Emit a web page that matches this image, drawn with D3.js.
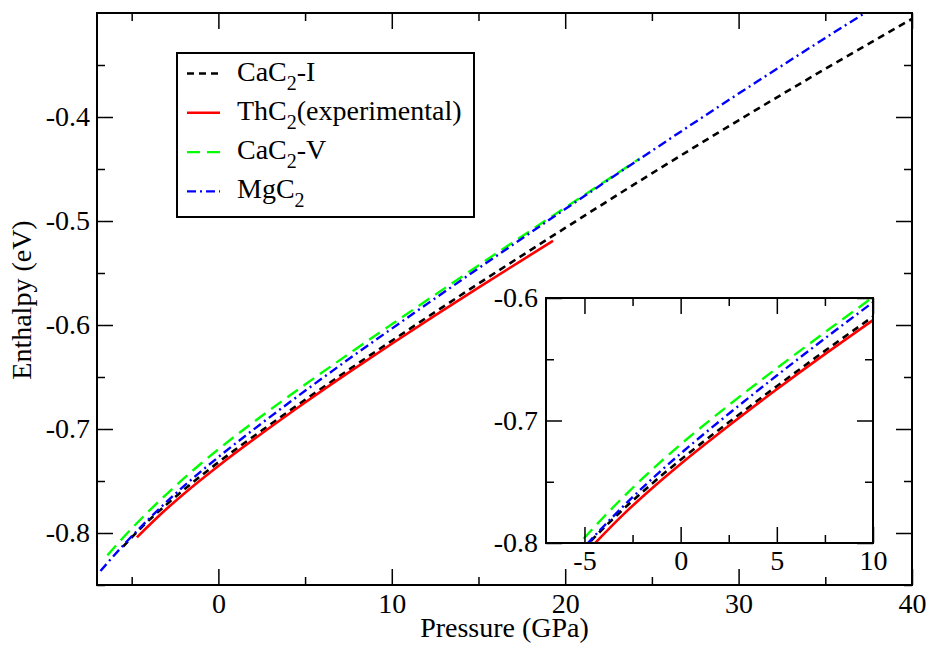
<!DOCTYPE html>
<html>
<head>
<meta charset="utf-8">
<script src="https://cdn.jsdelivr.net/npm/d3@7"></script>
<style>
  body { margin: 0; background: #fff; }
  svg text { font-family: "Liberation Serif", "Times New Roman", serif; }
</style>
</head>
<body>
<svg id="chart" width="930" height="645"></svg>
<script>
// values (pressure in GPa, enthalpy in eV)
const pressureCaC2I = [-5.5, -4.5, -3, -1.5, 0, 2.5, 5, 7.5, 10, 15, 20, 25, 30, 35, 40];
const enthalpyCaC2I = [-0.8132, -0.7957, -0.7727, -0.7517, -0.732, -0.7015, -0.672, -0.6432, -0.6152, -0.5602, -0.5067, -0.4542, -0.4032, -0.3537, -0.3057];

const pressureThC2 = [-4.7, -3, -1.5, 0, 2.5, 5, 7.5, 10, 12.5, 15, 17.5, 19.3];
const enthalpyThC2 = [-0.8042, -0.777, -0.7555, -0.7355, -0.7043, -0.6745, -0.6458, -0.618, -0.5908, -0.564, -0.5378, -0.519];

const pressureCaC2V = [-6.4, -5.5, -4, -2.5, -1, 0, 2.5, 5, 7.5, 10, 15, 20, 24.3];
const enthalpyCaC2V = [-0.8215, -0.8046, -0.7788, -0.7551, -0.7332, -0.7195, -0.6875, -0.6573, -0.628, -0.5993, -0.5427, -0.4871, -0.4399];

const pressureMgC2 = [-6.8, -5.5, -4, -2.5, -1, 0, 2.5, 5, 7.5, 10, 15, 20, 25, 30, 35, 37.4];
const enthalpyMgC2 = [-0.8365, -0.8121, -0.7863, -0.7626, -0.7407, -0.727, -0.6945, -0.6633, -0.633, -0.6035, -0.5455, -0.4885, -0.4325, -0.3775, -0.324, -0.2988];

const seriesNames = ["CaC_2-I", "ThC_2(experimental)", "CaC_2-V", "MgC_2"];

const xTicksMain = [0, 10, 20, 30, 40];
const xMinorMain = [-5, 5, 15, 25, 35];
const yTicksMain = [-0.8, -0.7, -0.6, -0.5, -0.4];
const yMinorMain = [-0.85, -0.75, -0.65, -0.55, -0.45, -0.35];

const xTicksInset = [-5, 0, 5, 10];
const xMinorInset = [-2.5, 2.5, 7.5];
const yTicksInset = [-0.8, -0.7, -0.6];
const yMinorInset = [-0.75, -0.65];

const series = [
  { p: pressureCaC2I, h: enthalpyCaC2I, color: "#000000", dash: "7,5", width: 2.6 },
  { p: pressureThC2, h: enthalpyThC2, color: "#ff0000", dash: null, width: 2.6 },
  { p: pressureCaC2V, h: enthalpyCaC2V, color: "#00ff00", dash: "13,7", width: 2.4 },
  { p: pressureMgC2, h: enthalpyMgC2, color: "#0000ff", dash: "9,4,2,4", width: 2.4 }
].map((s, i) => ({ ...s, name: seriesNames[i], pts: s.p.map((p, j) => [p, s.h[j]]) }));

const svg = d3.select("#chart");
const fontSize = 28;

function drawPanel(box, xDomain, yDomain, ticks, id) {
  const x = d3.scaleLinear().domain(xDomain).range([box.left, box.right]);
  const y = d3.scaleLinear().domain(yDomain).range([box.bottom, box.top]);

  const g = svg.append("g");

  g.append("rect")
    .attr("x", box.left).attr("y", box.top)
    .attr("width", box.right - box.left).attr("height", box.bottom - box.top)
    .attr("fill", "#fff");

  g.append("clipPath").attr("id", id)
    .append("rect")
    .attr("x", box.left).attr("y", box.top)
    .attr("width", box.right - box.left).attr("height", box.bottom - box.top);

  const line = d3.line()
    .x(d => x(d[0]))
    .y(d => y(d[1]))
    .curve(d3.curveMonotoneX);

  g.append("g").attr("clip-path", `url(#${id})`)
    .selectAll("path")
    .data(series)
    .join("path")
    .attr("d", d => line(d.pts))
    .attr("fill", "none")
    .attr("stroke", d => d.color)
    .attr("stroke-width", d => d.width)
    .attr("stroke-dasharray", d => d.dash);

  // ticks point inward on all four sides
  const sides = [
    [d3.axisBottom(x), `translate(0,${box.bottom})`, ticks.x, ticks.xMinor, true, ticks.padX],
    [d3.axisTop(x), `translate(0,${box.top})`, ticks.x, ticks.xMinor, false, 0],
    [d3.axisLeft(y), `translate(${box.left},0)`, ticks.y, ticks.yMinor, true, ticks.padY],
    [d3.axisRight(y), `translate(${box.right},0)`, ticks.y, ticks.yMinor, false, 0]
  ];

  sides.forEach(([axis, tr, major, minor, labels, pad]) => {
    const a = g.append("g")
      .attr("transform", tr)
      .call(axis.tickValues(major).tickSizeInner(-16).tickSizeOuter(0).tickPadding(pad)
        .tickFormat(labels ? ticks.fmt : () => ""));
    a.select(".domain").remove();
    a.selectAll("line").attr("stroke-width", 1.5);
    a.selectAll("text")
      .attr("font-size", fontSize)
      .attr("font-family", "Liberation Serif, serif")
      .attr("fill", "#000");

    const m = g.append("g")
      .attr("transform", tr)
      .call(axis.tickValues(minor).tickSizeInner(-8).tickSizeOuter(0).tickFormat(() => ""));
    m.select(".domain").remove();
    m.selectAll("line").attr("stroke-width", 1.5);
  });

  g.append("rect")
    .attr("x", box.left).attr("y", box.top)
    .attr("width", box.right - box.left).attr("height", box.bottom - box.top)
    .attr("fill", "none")
    .attr("stroke", "#000")
    .attr("stroke-width", 2);

  return g;
}

const fmt = d => (Number.isInteger(d) ? String(d) : d.toFixed(1));

// main plot
drawPanel({ left: 97, right: 912, top: 13, bottom: 585 }, [-7, 40], [-0.85, -0.3], {
  x: xTicksMain, xMinor: xMinorMain, y: yTicksMain, yMinor: yMinorMain,
  padX: 8, padY: 7, fmt: fmt
}, "clip-main");

// axis titles
svg.append("text")
  .attr("x", 504.5).attr("y", 637)
  .attr("text-anchor", "middle")
  .attr("font-size", fontSize)
  .text("Pressure (GPa)");

svg.append("text")
  .attr("transform", "translate(31,300) rotate(-90)")
  .attr("text-anchor", "middle")
  .attr("font-size", fontSize)
  .text("Enthalpy (eV)");

// legend
const legend = svg.append("g");
legend.append("rect")
  .attr("x", 177).attr("y", 53)
  .attr("width", 297).attr("height", 164)
  .attr("fill", "#fff")
  .attr("stroke", "#000")
  .attr("stroke-width", 2);

series.forEach((s, i) => {
  const base = 80.5 + i * 39.3;
  legend.append("line")
    .attr("x1", 187).attr("x2", 220)
    .attr("y1", base - 7).attr("y2", base - 7)
    .attr("stroke", s.color)
    .attr("stroke-width", s.width)
    .attr("stroke-dasharray", s.dash);

  const [before, after] = s.name.split("_2");
  const t = legend.append("text")
    .attr("x", 237).attr("y", base)
    .attr("font-size", fontSize);
  t.append("tspan").text(before);
  t.append("tspan").attr("font-size", 20).attr("dy", 9).text("2");
  t.append("tspan").attr("dy", -9).text(after);
});

// inset
drawPanel({ left: 546, right: 873, top: 298, bottom: 543 }, [-7, 10], [-0.8, -0.6], {
  x: xTicksInset, xMinor: xMinorInset, y: yTicksInset, yMinor: yMinorInset,
  padX: 7, padY: 8, fmt: fmt
}, "clip-inset");
</script>
</body>
</html>
